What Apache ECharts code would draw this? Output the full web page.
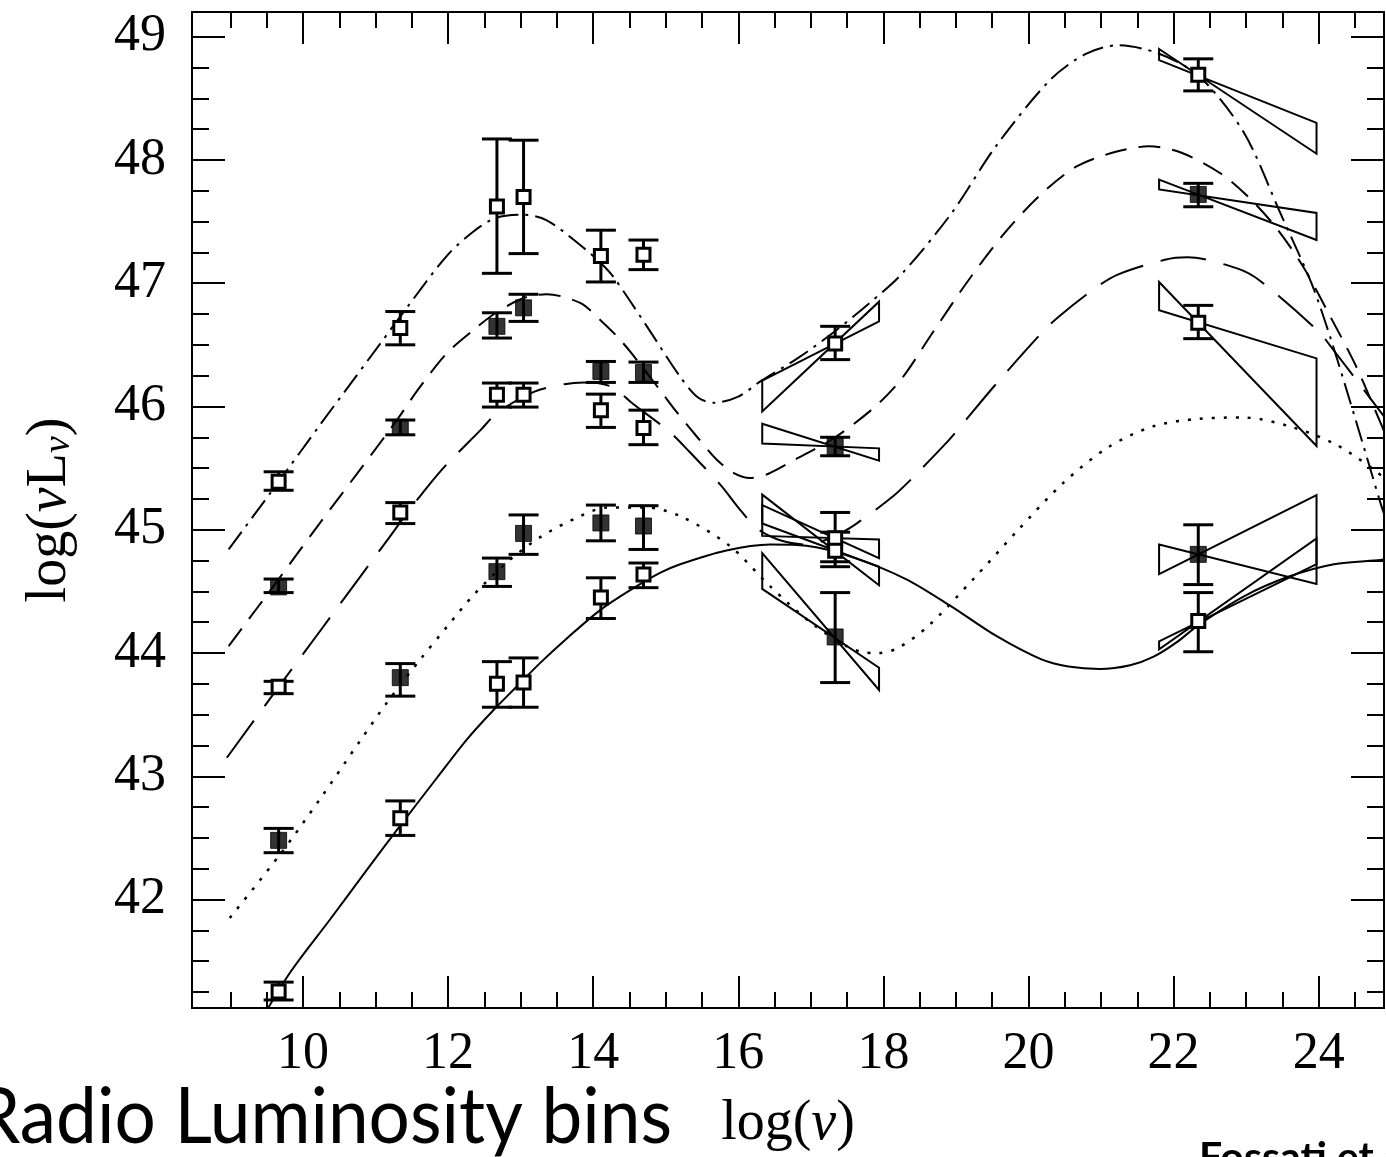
<!DOCTYPE html>
<html><head><meta charset="utf-8">
<script src="https://cdn.jsdelivr.net/npm/echarts@6/dist/echarts.min.js"></script>
<style>html,body{margin:0;padding:0;background:#fff}#c{width:1386px;height:1157px}</style>
</head><body><div id="c"></div>
<script>
// ---- axis ticks ----
const xMajor = [10, 12, 14, 16, 18, 20, 22, 24];
const xMinor = [9, 9.5, 10.5, 11, 11.5, 12.5, 13, 13.5, 14.5, 15, 15.5, 16.5, 17, 17.5, 18.5, 19, 19.5, 20.5, 21, 21.5, 22.5, 23, 23.5, 24.5];
const yMajor = [42, 43, 44, 45, 46, 47, 48, 49];
const yMinor = [41.25, 41.5, 41.75, 42.25, 42.5, 42.75, 43.25, 43.5, 43.75, 44.25, 44.5, 44.75, 45.25, 45.5, 45.75, 46.25, 46.5, 46.75, 47.25, 47.5, 47.75, 48.25, 48.5, 48.75];

// ---- data: frequencies of the SED points ----
const freqs = [9.664, 11.341, 12.673, 13.040, 14.106, 14.693, 17.335, 22.340];

// bin 1 (open squares, dash-dot)
const bin1Y  = [45.39, 46.636, 47.622, 47.70, 47.22, 47.23, 46.51, 48.69];
const bin1Lo = [45.32, 46.50, 47.08, 47.24, 47.01, 47.11, 46.38, 48.56];
const bin1Hi = [45.47, 46.77, 48.17, 48.16, 47.43, 47.35, 46.65, 48.82];
// bin 2 (filled squares, short dash)
const bin2Y  = [44.536, 45.83, 46.65, 46.80, 46.284, 46.276, 45.676, 47.72];
const bin2Lo = [44.49, 45.77, 46.555, 46.69, 46.195, 46.195, 45.60, 47.62];
const bin2Hi = [44.60, 45.89, 46.76, 46.91, 46.365, 46.36, 45.75, 47.81];
// bin 3 (open squares, long dash)
const bin3Y  = [43.726, 45.14, 46.095, 46.095, 45.97, 45.825, 44.93, 46.68];
const bin3Lo = [43.67, 45.05, 45.995, 45.995, 45.83, 45.69, 44.74, 46.55];
const bin3Hi = [43.77, 45.22, 46.19, 46.19, 46.10, 45.97, 45.14, 46.82];
// bin 4 (filled squares, dotted)
const bin4Y  = [42.48, 43.80, 44.66, 44.97, 45.055, 45.03, 44.13, 44.80];
const bin4Lo = [42.38, 43.65, 44.54, 44.80, 44.91, 44.84, 43.76, 44.555];
const bin4Hi = [42.577, 43.914, 44.77, 45.12, 45.20, 45.195, 44.49, 45.04];
// bin 5 (open squares, solid)
const bin5Y  = [41.253, 42.66, 43.75, 43.76, 44.45, 44.636, 44.83, 44.26];
const bin5Lo = [41.185, 42.52, 43.56, 43.56, 44.28, 44.53, 44.70, 44.01];
const bin5Hi = [41.33, 42.80, 43.93, 43.96, 44.61, 44.73, 44.98, 44.49];

// bow-ties: [xLeft, xRight, yLeftUpper, yLeftLower, yRightUpper, yRightLower]
const xrayBowties = [
  [16.33, 17.94, 46.21, 45.96, 46.85, 46.69],
  [16.33, 17.94, 45.86, 45.70, 45.66, 45.56],
  [16.33, 17.94, 45.20, 44.95, 44.92, 44.77],
  [16.33, 17.94, 44.81, 44.52, 43.88, 43.70],
  [16.33, 17.94, 45.285, 45.05, 44.70, 44.55]
];
const gammaBowties = [
  [21.80, 23.97, 48.90, 48.81, 48.30, 48.05],
  [21.80, 23.97, 47.84, 47.76, 47.57, 47.35],
  [21.80, 23.97, 47.01, 46.78, 46.39, 45.68],
  [21.80, 23.97, 44.88, 44.64, 45.28, 44.56],
  [21.80, 23.97, 44.095, 44.03, 44.93, 44.72]
];

// model curves
const curve1 = [[8.975,44.84],[9.64,45.37],[10.24,45.855],[10.70,46.22],[11.065,46.51],[11.43,46.80],[11.98,47.22],[12.35,47.42],[12.66,47.53],[13.04,47.555],[13.36,47.51],[13.82,47.31],[14.11,47.16],[14.28,47.05],[14.74,46.65],[15.2,46.24],[15.45,46.07],[15.665,46.03],[16.0,46.08],[16.32,46.21],[16.815,46.39],[17.31,46.60],[17.81,46.84],[18.245,47.07],[18.93,47.56],[19.55,48.11],[20.30,48.65],[20.79,48.86],[21.23,48.93],[21.785,48.865],[22.35,48.68],[22.97,48.22],[23.47,47.57],[23.90,47.0],[24.16,46.56],[24.52,45.87],[24.85,45.22],[24.9,45.13]];
const curve2 = [[8.975,44.055],[9.69,44.62],[10.24,45.06],[10.79,45.49],[11.295,45.89],[11.59,46.14],[11.98,46.43],[12.35,46.62],[12.66,46.76],[13.04,46.88],[13.36,46.91],[13.82,46.84],[14.10,46.70],[14.35,46.555],[14.53,46.43],[14.95,46.11],[15.13,45.97],[15.45,45.74],[15.7,45.57],[15.94,45.46],[16.16,45.42],[16.4,45.45],[16.815,45.58],[17.31,45.74],[17.87,45.99],[18.245,46.22],[18.68,46.60],[19.18,47.03],[19.675,47.41],[20.17,47.72],[20.67,47.95],[21.23,48.07],[21.66,48.11],[22.10,48.06],[22.65,47.89],[23.03,47.70],[23.40,47.46],[23.78,47.14],[24.15,46.74],[24.52,46.32],[24.85,45.87],[24.9,45.80]];
const curve3 = [[8.95,43.15],[9.72,43.77],[10.2,44.15],[10.79,44.62],[11.18,44.93],[11.44,45.14],[11.76,45.38],[11.98,45.53],[12.45,45.81],[12.68,45.95],[13.19,46.12],[13.60,46.18],[13.87,46.195],[14.06,46.19],[14.29,46.15],[14.53,46.03],[15.06,45.79],[15.33,45.63],[15.76,45.36],[16.0,45.18],[16.26,45.01],[16.6,44.91],[16.95,44.88],[17.3,44.94],[17.63,45.05],[18.15,45.28],[18.40,45.42],[18.86,45.70],[19.08,45.85],[19.52,46.16],[20.17,46.59],[20.42,46.73],[20.92,46.96],[21.23,47.07],[21.88,47.19],[22.19,47.21],[22.875,47.12],[23.19,47.02],[23.995,46.61],[24.20,46.46],[24.59,46.16],[24.9,45.92]];
const curve4 = [[8.99,41.85],[9.69,42.37],[10.24,42.82],[10.79,43.29],[11.16,43.60],[11.62,43.95],[11.98,44.21],[12.35,44.47],[12.8,44.73],[13.27,44.94],[13.82,45.11],[14.19,45.18],[14.74,45.18],[15.2,45.11],[15.88,44.87],[16.44,44.54],[17.06,44.22],[17.685,44.01],[17.93,44.00],[18.2,44.04],[18.62,44.22],[19.24,44.60],[19.86,45.0],[20.48,45.38],[21.10,45.67],[21.725,45.84],[22.35,45.90],[22.97,45.91],[23.59,45.84],[24.21,45.70],[24.71,45.51],[24.9,45.42]];
const curve5 = [[9.45,41.05],[9.825,41.41],[10.375,41.84],[10.88,42.24],[11.34,42.60],[11.85,42.99],[12.26,43.30],[12.63,43.54],[12.95,43.73],[13.27,43.92],[13.64,44.12],[14.10,44.35],[14.51,44.51],[14.92,44.65],[15.2,44.72],[15.82,44.83],[16.44,44.88],[16.94,44.87],[17.56,44.78],[18.31,44.60],[18.93,44.38],[19.55,44.14],[20.17,43.95],[20.55,43.89],[20.98,43.87],[21.4,43.90],[21.725,43.97],[22.05,44.09],[22.35,44.23],[22.97,44.46],[23.59,44.62],[24.21,44.72],[24.85,44.755],[24.9,44.76]];

const X_MIN = 8.47, X_MAX = 24.9, Y_MIN = 41.12, Y_MAX = 49.2;

const bins = [
  {y: bin1Y, lo: bin1Lo, hi: bin1Hi, filled: false, curve: curve1, dash: [22, 7, 3, 7], w: 2},
  {y: bin2Y, lo: bin2Lo, hi: bin2Hi, filled: true,  curve: curve2, dash: [22, 12], w: 2},
  {y: bin3Y, lo: bin3Lo, hi: bin3Hi, filled: false, curve: curve3, dash: [46, 18], w: 2},
  {y: bin4Y, lo: bin4Lo, hi: bin4Hi, filled: true,  curve: curve4, dash: [3, 9], w: 2.5},
  {y: bin5Y, lo: bin5Lo, hi: bin5Hi, filled: false, curve: curve5, dash: 'solid', w: 2}
];

const BLACK = '#000';
const serif = 'Liberation Serif';

function xAxisDef(pos, ticks, len, withLabels) {
  const a = {
    type: 'value', position: pos, min: X_MIN, max: X_MAX, gridIndex: 0,
    axisLine: {show: true, onZero: false, lineStyle: {color: BLACK, width: 2}},
    axisTick: {show: true, inside: true, length: len, customValues: ticks, lineStyle: {color: BLACK, width: 2}},
    axisLabel: {show: false},
    splitLine: {show: false}
  };
  if (withLabels) {
    a.axisLabel = {show: true, customValues: xMajor, margin: 20, color: BLACK, fontFamily: serif, fontSize: 52, formatter: v => String(v)};
    a.name = 'log({i|ν})';
    a.nameLocation = 'middle';
    a.nameGap = 88;
    a.nameTextStyle = {fontFamily: serif, fontSize: 56, color: BLACK, rich: {i: {fontFamily: serif, fontSize: 56, fontStyle: 'italic', color: BLACK}}};
  }
  return a;
}
function yAxisDef(pos, ticks, len, withLabels) {
  const a = {
    type: 'value', position: pos, min: Y_MIN, max: Y_MAX, gridIndex: 0,
    axisLine: {show: true, onZero: false, lineStyle: {color: BLACK, width: 2}},
    axisTick: {show: true, inside: true, length: len, customValues: ticks, lineStyle: {color: BLACK, width: 2}},
    axisLabel: {show: false},
    splitLine: {show: false}
  };
  if (withLabels) {
    a.axisLabel = {show: true, customValues: yMajor, margin: 26, color: BLACK, fontFamily: serif, fontSize: 52, formatter: v => String(v)};
    a.name = 'log({i|ν}L{s|ν})';
    a.nameLocation = 'middle';
    a.nameGap = 114;
    a.nameRotate = 90;
    a.nameTextStyle = {fontFamily: serif, fontSize: 56, color: BLACK, rich: {
      i: {fontFamily: serif, fontSize: 56, fontStyle: 'italic', color: BLACK},
      s: {fontFamily: serif, fontSize: 38, fontStyle: 'italic', color: BLACK, verticalAlign: 'bottom', padding: [18, 0, 0, 0]}
    }};
  }
  return a;
}

const series = [];
// model curves
bins.forEach((b, i) => {
  series.push({
    type: 'line', name: 'model' + (i + 1), data: b.curve, showSymbol: false, symbol: 'none',
    smooth: 0.3, clip: true, z: 2, silent: true,
    lineStyle: {color: BLACK, width: b.w, type: b.dash}
  });
});
// bow-ties
function bowtieSeries(data) {
  return {
    type: 'custom', data: data, z: 3, silent: true, clip: true,
    encode: {x: [0, 1], y: [2, 3, 4, 5]},
    renderItem: (params, api) => {
      const xL = api.value(0), xR = api.value(1);
      const p1 = api.coord([xL, api.value(2)]);
      const p2 = api.coord([xR, api.value(5)]);
      const p3 = api.coord([xR, api.value(4)]);
      const p4 = api.coord([xL, api.value(3)]);
      return {type: 'polygon', shape: {points: [p1, p2, p3, p4]}, style: {fill: 'none', stroke: BLACK, lineWidth: 2}};
    }
  };
}
series.push(bowtieSeries(xrayBowties));
series.push(bowtieSeries(gammaBowties));
// error bars
bins.forEach((b) => {
  series.push({
    type: 'custom', z: 4, silent: true,
    data: freqs.map((x, k) => [x, b.lo[k], b.hi[k]]),
    encode: {x: 0, y: [1, 2]},
    renderItem: (params, api) => {
      const x = api.value(0);
      const pl = api.coord([x, api.value(1)]);
      const ph = api.coord([x, api.value(2)]);
      const hw = 15;
      const st = {stroke: BLACK, lineWidth: 3};
      return {type: 'group', children: [
        {type: 'line', shape: {x1: pl[0], y1: pl[1], x2: ph[0], y2: ph[1]}, style: st},
        {type: 'line', shape: {x1: pl[0] - hw, y1: pl[1], x2: pl[0] + hw, y2: pl[1]}, style: st},
        {type: 'line', shape: {x1: ph[0] - hw, y1: ph[1], x2: ph[0] + hw, y2: ph[1]}, style: st}
      ]};
    }
  });
});
// squares
bins.forEach((b) => {
  series.push({
    type: 'scatter', z: 5, silent: true, symbol: 'rect',
    symbolSize: b.filled ? 16 : 13,
    data: freqs.map((x, k) => [x, b.y[k]]),
    itemStyle: b.filled ? {color: BLACK, borderColor: BLACK, borderWidth: 1} : {color: '#fff', borderColor: BLACK, borderWidth: 3, opacity: 1}
  });
});

const chart = echarts.init(document.getElementById('c'), null, {renderer: 'canvas'});
chart.setOption({
  animation: false,
  backgroundColor: '#fff',
  grid: {left: 192, top: 12, width: 1192, height: 996, containLabel: false},
  xAxis: [
    xAxisDef('bottom', xMajor, 32, true),
    xAxisDef('bottom', xMinor, 16, false),
    xAxisDef('top', xMajor, 32, false),
    xAxisDef('top', xMinor, 16, false)
  ],
  yAxis: [
    yAxisDef('left', yMajor, 33, true),
    yAxisDef('left', yMinor, 17, false),
    yAxisDef('right', yMajor, 33, false),
    yAxisDef('right', yMinor, 17, false)
  ],
  series: series,
  graphic: [
    {type: 'text', x: 672, y: 1080, originX: 0, originY: 0, scaleX: 0.947, scaleY: 1,
      style: {text: 'Radio Luminosity bins', font: '77px Lato', fill: BLACK, align: 'right', verticalAlign: 'top'}},
    {type: 'text', x: 1199, y: 1137,
      style: {text: 'Fossati et al.', font: 'bold 41px Lato', fill: BLACK, align: 'left', verticalAlign: 'top'}}
  ]
});
</script>
</body></html>
